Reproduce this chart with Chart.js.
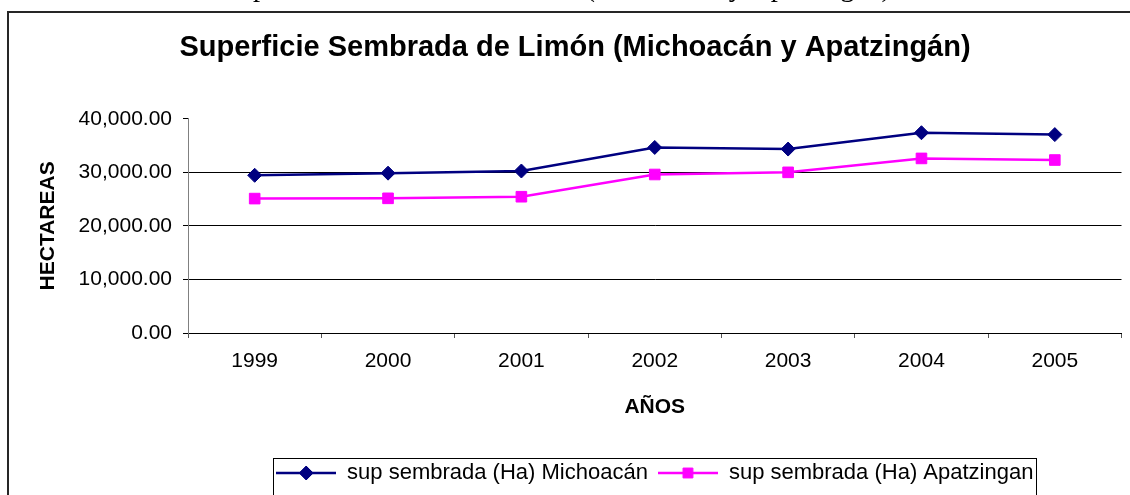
<!DOCTYPE html>
<html>
<head>
<meta charset="utf-8">
<title>Superficie Sembrada de Limón</title>
<script src="https://cdn.jsdelivr.net/npm/chart.js@4.4.1/dist/chart.umd.min.js"></script>
<style>
  html, body { margin: 0; padding: 0; background: #fff; }
  #wrap { position: relative; width: 1130px; height: 495px; overflow: hidden; }
</style>
</head>
<body>
<div id="wrap"><canvas id="limonChart" width="1130" height="495"></canvas></div>
<script>
// data
const years = ["1999", "2000", "2001", "2002", "2003", "2004", "2005"];
const michoacan = [29450, 29850, 30250, 34650, 34350, 37400, 37050];
const apatzingan = [25100, 25150, 25450, 29600, 30000, 32600, 32300];
const yTicks = [0, 10000, 20000, 30000, 40000];

const caption = "Superficie Sembrada de Limón (Michoacán y Apatzingán)";
const chartTitle = "Superficie Sembrada de Limón (Michoacán y Apatzingán)";
const seriesNames = ["sup sembrada (Ha) Michoacán", "sup sembrada (Ha) Apatzingan"];

const SANS = "'Liberation Sans', Arial, sans-serif";
const NAVY = "#000080";
const MAGENTA = "#FF00FF";

// little line + marker glyph for the legend
function legendMark(color, style, radius) {
  const c = document.createElement("canvas");
  c.width = 60;
  c.height = 20;
  const g = c.getContext("2d");
  g.strokeStyle = color;
  g.lineWidth = 2.5;
  g.beginPath();
  g.moveTo(0, 10);
  g.lineTo(60, 10);
  g.stroke();
  g.fillStyle = color;
  g.lineWidth = 1;
  Chart.helpers.drawPoint(g, { pointStyle: style, radius: radius, borderWidth: 1 }, 30, 10);
  return c;
}

// outer frame, cut caption above it and the box round the legend
const framePlugin = {
  id: "frame",
  beforeDraw(chart) {
    const ctx = chart.ctx;
    ctx.save();
    ctx.fillStyle = "#fff";
    ctx.fillRect(0, 0, chart.width, chart.height);

    ctx.fillStyle = "#000";
    ctx.font = "28.5px 'Liberation Serif', 'Times New Roman', serif";
    ctx.textBaseline = "alphabetic";
    ctx.textAlign = "left";
    ctx.fillText(caption, 223, -4);

    ctx.strokeStyle = "#262626";
    ctx.lineWidth = 2;
    ctx.beginPath();
    ctx.moveTo(8, chart.height + 5);
    ctx.lineTo(8, 12);
    ctx.lineTo(chart.width + 5, 12);
    ctx.stroke();
    ctx.restore();
  },
  afterDraw(chart) {
    const lg = chart.legend;
    const hb = lg.legendHitBoxes;
    if (!hb || !hb.length) return;
    const last = hb[hb.length - 1];
    const left = Math.round(hb[0].left - 3) + 0.5;
    const right = Math.round(last.left + last.width + 3) + 0.5;
    const top = Math.round(lg.top + 6) + 0.5;
    const ctx = chart.ctx;
    ctx.save();
    ctx.strokeStyle = "#000";
    ctx.lineWidth = 1;
    ctx.strokeRect(left, top, right - left, 80);
    ctx.restore();
  }
};

const ctx = document.getElementById("limonChart").getContext("2d");

new Chart(ctx, {
  type: "line",
  data: {
    labels: years,
    datasets: [
      {
        label: seriesNames[0],
        data: michoacan,
        borderColor: NAVY,
        backgroundColor: NAVY,
        borderWidth: 2.5,
        pointStyle: "rectRot",
        pointRadius: 7,
        pointBorderWidth: 1,
        tension: 0
      },
      {
        label: seriesNames[1],
        data: apatzingan,
        borderColor: MAGENTA,
        backgroundColor: MAGENTA,
        borderWidth: 2.5,
        pointStyle: "rect",
        pointRadius: 7.5,
        pointBorderWidth: 1,
        tension: 0
      }
    ]
  },
  options: {
    responsive: false,
    animation: false,
    events: [],
    layout: { padding: { left: 24, right: 4, top: 0, bottom: 1 } },
    plugins: {
      title: {
        display: true,
        text: chartTitle,
        color: "#000",
        font: { family: SANS, size: 29, weight: "bold" },
        padding: { top: 31, bottom: 53 }
      },
      legend: {
        position: "bottom",
        fullSize: false,
        labels: {
          color: "#000",
          font: { family: SANS, size: 22 },
          padding: 10,
          usePointStyle: true,
          pointStyleWidth: 60,
          generateLabels(chart) {
            return [
              { text: seriesNames[0], pointStyle: legendMark(NAVY, "rectRot", 7), fillStyle: NAVY, strokeStyle: NAVY, lineWidth: 0, hidden: false, datasetIndex: 0 },
              { text: seriesNames[1], pointStyle: legendMark(MAGENTA, "rect", 7), fillStyle: MAGENTA, strokeStyle: MAGENTA, lineWidth: 0, hidden: false, datasetIndex: 1 }
            ];
          }
        }
      },
      tooltip: { enabled: false }
    },
    scales: {
      x: {
        offset: true,
        grid: { drawOnChartArea: false, drawTicks: true, tickLength: 5, tickColor: "#555", offset: true },
        border: { color: "#000", width: 1 },
        ticks: { color: "#000", font: { family: SANS, size: 21 }, padding: 11, maxRotation: 0 },
        title: {
          display: true,
          text: "AÑOS",
          color: "#000",
          font: { family: SANS, size: 21, weight: "bold" },
          padding: { top: 0, bottom: 32 }
        },
        afterFit(scale) { scale.height = 119; }
      },
      y: {
        min: 0,
        max: 40000,
        afterBuildTicks(scale) { scale.ticks = yTicks.map(v => ({ value: v })); },
        grid: {
          color: c => (c.tick && c.tick.value === 40000 ? "rgba(0,0,0,0)" : "#000"),
          tickColor: "#000",
          tickLength: 5,
          lineWidth: 1
        },
        border: { color: "#808080", width: 1 },
        ticks: {
          color: "#000",
          font: { family: SANS, size: 21 },
          padding: 11,
          callback: v => Number(v).toLocaleString("en-US", { minimumFractionDigits: 2, maximumFractionDigits: 2 })
        },
        title: {
          display: true,
          text: "HECTAREAS",
          color: "#000",
          font: { family: SANS, size: 21, weight: "bold" },
          padding: { top: 12, bottom: 0 }
        },
        afterFit(scale) { scale.width = 164; }
      }
    }
  },
  plugins: [framePlugin]
});
</script>
</body>
</html>
